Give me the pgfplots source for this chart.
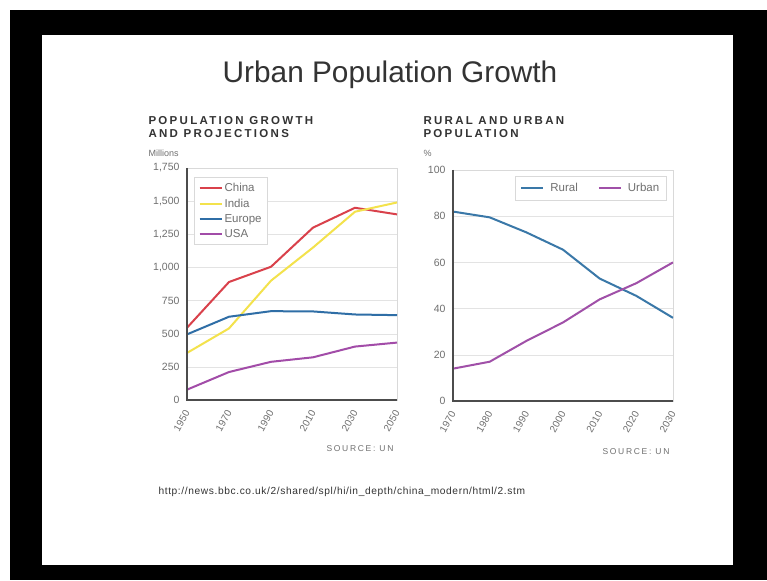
\documentclass[border=0pt]{standalone}
\usepackage{pgfplots}
\pgfplotsset{compat=1.18}
\usepackage{fontspec}
\setmainfont{Liberation Sans}
\newfontfamily\heavy[LetterSpace=20]{Liberation Sans}
\newfontfamily\spaced[LetterSpace=6]{Liberation Sans}
\definecolor{cChina}{HTML}{D9414B}
\definecolor{cIndia}{HTML}{F3E24C}
\definecolor{cEurope}{HTML}{2F6EA6}
\definecolor{cUSA}{HTML}{A24CA8}
\definecolor{cRural}{HTML}{3A78A8}
\definecolor{cUrban}{HTML}{A050A8}
\definecolor{txt}{HTML}{333333}
\definecolor{lbl}{HTML}{707070}
\pgfplotsset{
  bbc/.style={
    scale only axis,
    axis line style={gray!30},
    ymajorgrids, grid style={gray!22},
    major tick length=0pt,
    tick label style={font=\fontsize{10.5}{11}\selectfont, text=lbl},
    y tick label style={xshift=-4pt},
    /pgf/number format/assume math mode=true,
    x tick label style={font=\fontsize{10}{11}\selectfont, yshift=-8pt, xshift=2pt, rotate=60, anchor=east, /pgf/number format/1000 sep={}},
    legend style={draw=gray!30, font=\fontsize{11.5}{13}\selectfont, text=lbl, inner sep=3pt, row sep=1.5pt,
      /tikz/every even column/.append style={column sep=4pt}},
    legend image post style={line width=2pt},
    legend image code/.code={\draw[#1] (0pt,0pt) -- (22pt,0pt);},
    legend cell align=left,
    every axis plot/.append style={line width=2pt},
    after end axis/.code={\draw[gray!60!black, line width=1.3pt] (rel axis cs:0,1) -- (rel axis cs:0,0) -- (rel axis cs:1,0);},
  }
}
\begin{document}
\begin{tikzpicture}
\fill[white] (0pt,0pt) rectangle (767pt,580pt);
\fill[black] (10pt,0pt) rectangle (767pt,570pt);
\fill[white] (42pt,15pt) rectangle (733pt,545pt);

\node[anchor=base, font=\fontsize{29.8}{31}\selectfont, text=txt] at (390pt,497pt) {Urban Population Growth};

\node[anchor=base west, font=\heavy\bfseries\fontsize{11.5}{12}\selectfont, text=txt] at (145pt,455pt) {POPULATION GROWTH};
\node[anchor=base west, font=\heavy\bfseries\fontsize{11.5}{12}\selectfont, text=txt] at (145pt,442pt) {AND PROJECTIONS};
\node[anchor=base west, font=\fontsize{9}{10}\selectfont, text=lbl] at (145pt,423pt) {Millions};

\node[anchor=base west, font=\heavy\bfseries\fontsize{11.5}{12}\selectfont, text=txt] at (420pt,455pt) {RURAL AND URBAN};
\node[anchor=base west, font=\heavy\bfseries\fontsize{11.5}{12}\selectfont, text=txt] at (420pt,442pt) {POPULATION};
\node[anchor=base west, font=\fontsize{9}{10}\selectfont, text=lbl] at (420pt,423pt) {\%};

\begin{axis}[bbc, at={(187pt,180pt)}, anchor=south west,
  width=210pt, height=232pt,
  xmin=1950, xmax=2050, xtick={1950,1970,...,2050},
  ymin=0, ymax=1750, ytick={0,250,...,1750},
  legend style={at={(0.035,0.96)}, anchor=north west, inner sep=4pt},
]
\addplot[color=cChina] coordinates {(1950,545)(1970,890)(1990,1005)(2010,1300)(2030,1450)(2050,1400)};
\addlegendentry{China}
\addplot[color=cIndia] coordinates {(1950,355)(1970,540)(1990,900)(2010,1150)(2030,1420)(2050,1490)};
\addlegendentry{India}
\addplot[color=cEurope] coordinates {(1950,495)(1970,628)(1990,670)(2010,668)(2030,645)(2050,640)};
\addlegendentry{Europe}
\addplot[color=cUSA] coordinates {(1950,78)(1970,211)(1990,288)(2010,322)(2030,403)(2050,433)};
\addlegendentry{USA}
\end{axis}

\begin{axis}[bbc, at={(453pt,179pt)}, anchor=south west,
  width=220pt, height=231pt,
  xmin=1970, xmax=2030, xtick={1970,1980,...,2030},
  ymin=0, ymax=100, ytick={0,20,...,100},
  legend columns=2,
  legend style={at={(0.97,0.975)}, anchor=north east, inner sep=5pt, row sep=0pt,
    /tikz/every odd column/.append style={column sep=4pt},
    /tikz/every even column/.append style={column sep=18pt}},
]
\addplot[color=cRural] coordinates {(1970,82)(1980,79.5)(1990,73)(2000,65.5)(2010,53)(2020,45.5)(2030,36)};
\addlegendentry{Rural}
\addplot[color=cUrban] coordinates {(1970,14)(1980,17)(1990,26)(2000,34)(2010,44)(2020,51)(2030,60)};
\addlegendentry{Urban}
\end{axis}

\node[anchor=base east, font=\heavy\fontsize{8.5}{9}\selectfont, text=lbl] at (397pt,128pt) {SOURCE: UN};
\node[anchor=base east, font=\heavy\fontsize{8.5}{9}\selectfont, text=lbl] at (673pt,125pt) {SOURCE: UN};

\node[anchor=base west, font=\spaced\fontsize{10.2}{11}\selectfont, text=txt] at (155pt,85pt) {http://news.bbc.co.uk/2/shared/spl/hi/in\_depth/china\_modern/html/2.stm};
\end{tikzpicture}
\end{document}
